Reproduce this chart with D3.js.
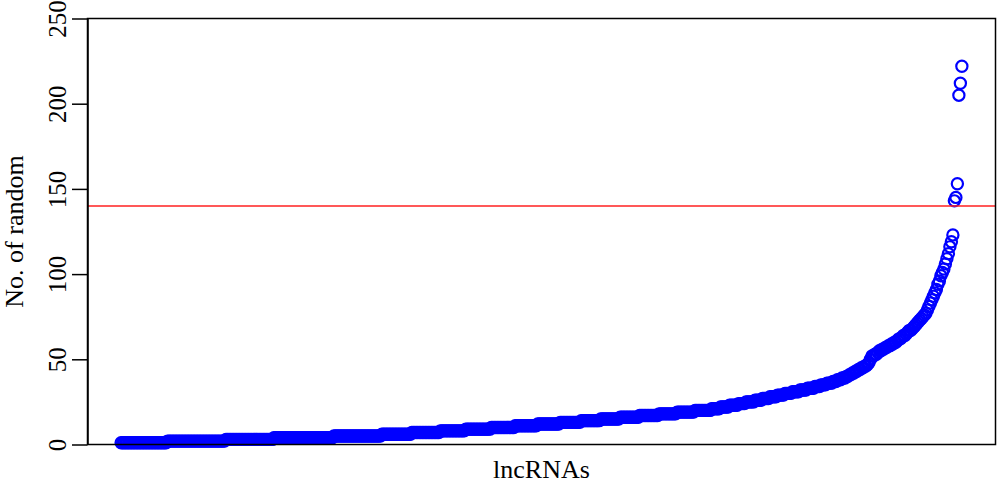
<!DOCTYPE html>
<html>
<head>
<meta charset="utf-8">
<script src="https://cdn.jsdelivr.net/npm/d3@7"></script>
<style>
  html, body { margin: 0; padding: 0; background: #fff; }
  svg { display: block; }
  text { font-family: "Liberation Serif", "Times New Roman", serif; fill: #000; }
</style>
</head>
<body>
<svg id="chart" width="1000" height="484"></svg>
<script>
// Run-length of sorted values: [value, number of lncRNAs with that value]
const valueRuns = [
  [1,31],[2,39],[3,32],[4,40],[5,32],
  [6,20],[7,19],[8,17],[9,17],[10,16],[11,15],[12,15],[13,14],[14,13],[15,13],
  [16,13],[17,13],[18,12],[19,12],[20,11],
  [21,6],[22,6],[23,6],[24,5],[25,6],[26,5],[27,5],[28,5],[29,5],[30,5],
  [31,5],[32,5],[33,5],[34,4],[35,4],[36,4],
  [37,3],[38,3],[39,3],[40,2],[41,2],[42,2],[43,2],[44,2],[45,2],[46,2],
  [47,1],[48,1],[50,1],[52,2],[53,2],[54,1],
  [55,2],[56,2],[57,2],[58,2],[59,2],[60,2],[61,1],
  [62,2],[63,1],[64,2],[65,1],[66,1],[67,2],[68,1],[69,1],
  [70,1],[71,1],[72,1],[73,1],[74,1],[75,1],[76,1],[77,1],[79,1],
  [81,1],[83,1],[85,1],[87,1],[89,1],
  [91,1],[94,1],[96,1],[99,1],[101,1],
  [103,1],[106,1],[109,1],[112,1],[116,1],[119,1],[123,1],
  [143,1],[145,1],[153,1],[205,1],[212,1],[222,1]
];
const yTicks = [0, 50, 100, 150, 200, 250];
const threshold = [140];
const xLabel = "lncRNAs";
const yLabel = "No. of random";

// expand runs into the sorted point list
const values = [];
valueRuns.forEach(([v, c]) => { for (let k = 0; k < c; k++) values.push(v); });
const points = values.map((v, i) => ({ idx: i + 1, v }));
const N = points.length;

const svg = d3.select("#chart");
const L = 87.5, R = 995.5, T = 18.5, B = 444.5;

const pad = 0.04 * (N - 1);
const x = d3.scaleLinear().domain([1 - pad, N + pad]).range([L, R]);
const y = d3.scaleLinear().domain([0, 250]).range([B, T]);

// points
svg.append("g")
  .selectAll("circle")
  .data(points)
  .join("circle")
  .attr("cx", d => x(d.idx))
  .attr("cy", d => y(d.v))
  .attr("r", 5.6)
  .attr("fill", "none")
  .attr("stroke", "#0000ff")
  .attr("stroke-width", 2.2);

// threshold line
svg.append("g")
  .selectAll("line")
  .data(threshold)
  .join("line")
  .attr("x1", L).attr("x2", R)
  .attr("y1", d => y(d)).attr("y2", d => y(d))
  .attr("stroke", "#ff2020")
  .attr("stroke-width", 1.4);

// box
svg.append("rect")
  .attr("x", L).attr("y", T)
  .attr("width", R - L).attr("height", B - T)
  .attr("fill", "none")
  .attr("stroke", "#000")
  .attr("stroke-width", 1.5);

// y axis
const yAxis = d3.axisLeft(y).tickValues(yTicks).tickSize(15.5).tickSizeOuter(0).tickPadding(6);
const gy = svg.append("g").attr("transform", `translate(${L},0)`).call(yAxis);
gy.select(".domain").attr("stroke", "#000").attr("stroke-width", 1.5);
gy.selectAll(".tick line").attr("stroke", "#000").attr("stroke-width", 1.5);
gy.selectAll(".tick text")
  .attr("x", null).attr("dy", null)
  .attr("transform", "translate(-22,0) rotate(-90)")
  .attr("text-anchor", "middle")
  .attr("dy", "0")
  .style("font-family", "'Liberation Serif', 'Times New Roman', serif")
  .style("font-size", "25px")
  .attr("fill", "#000");

// axis titles
svg.append("text")
  .attr("transform", `translate(23,${(T + B) / 2}) rotate(-90)`)
  .attr("text-anchor", "middle")
  .style("font-size", "26px")
  .text(yLabel);

svg.append("text")
  .attr("x", (L + R) / 2)
  .attr("y", 478)
  .attr("text-anchor", "middle")
  .style("font-size", "26px")
  .text(xLabel);
</script>
</body>
</html>
